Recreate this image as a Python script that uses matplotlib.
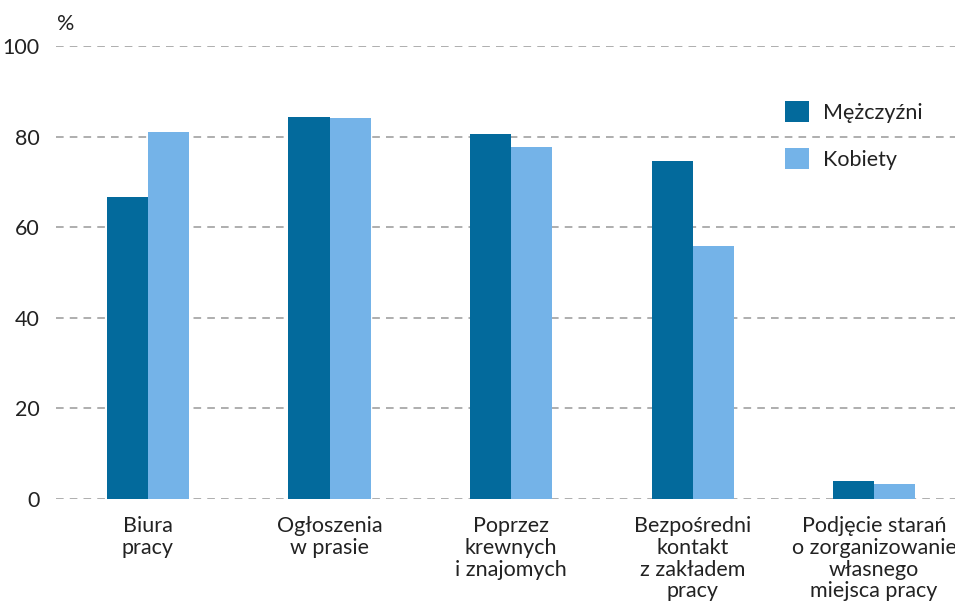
import numpy as np
import matplotlib
matplotlib.use("Agg")
import matplotlib.pyplot as plt

plt.rcParams['font.family'] = ['Lato', 'DejaVu Sans']

categories = ["Biura\npracy", "Ogłoszenia\nw prasie", "Poprzez\nkrewnych\ni znajomych",
              "Bezpośredni\nkontakt\nz zakładem\npracy",
              "Podjęcie starań\no zorganizowanie\nwłasnego\nmiejsca pracy"]
men = [66.7, 84.3, 80.5, 74.7, 3.9]
women = [81.1, 84.1, 77.7, 55.8, 3.3]
series_names = ["Mężczyźni", "Kobiety"]

dark = "#036a9c"
light = "#74b3e8"

fig = plt.figure(figsize=(9.55, 6.05), dpi=100)
ax = fig.add_axes([0.0586, 0.1752, 0.9414, 0.7488])

x = np.arange(len(categories))
w = 0.226
ax.bar(x - w / 2, men, w, color=dark, label=series_names[0], zorder=3)
ax.bar(x + w / 2, women, w, color=light, label=series_names[1], zorder=3)

ax.set_ylim(0, 100)
ax.set_xlim(-0.507, 4.446)
ax.set_yticks([0, 20, 40, 60, 80, 100])
ax.yaxis.grid(True, linestyle=(0, (5, 4)), color="#999999", linewidth=1.1, zorder=0)
ax.set_axisbelow(True)
for s in ax.spines.values():
    s.set_visible(False)
ax.tick_params(axis='both', length=0, labelsize=15.5, colors="#222222")
ax.tick_params(axis='y', pad=12)
ax.tick_params(axis='x', pad=12)
ax.set_xticks(x)
ax.set_xticklabels(categories, linespacing=1.12)

fig.text(57 / 955, 1 - 24 / 605, "%", fontsize=15.5, color="#222222", va="center")

ax.legend(loc="upper left", bbox_to_anchor=(785 / 955, 1 - 101 / 605),
          bbox_transform=fig.transFigure, frameon=False, fontsize=15.5,
          handlelength=1.1, handleheight=1.1, handletextpad=0.65,
          labelspacing=1.2, borderpad=0, borderaxespad=0, labelcolor="#222222")

fig.savefig("out.png", dpi=100)
